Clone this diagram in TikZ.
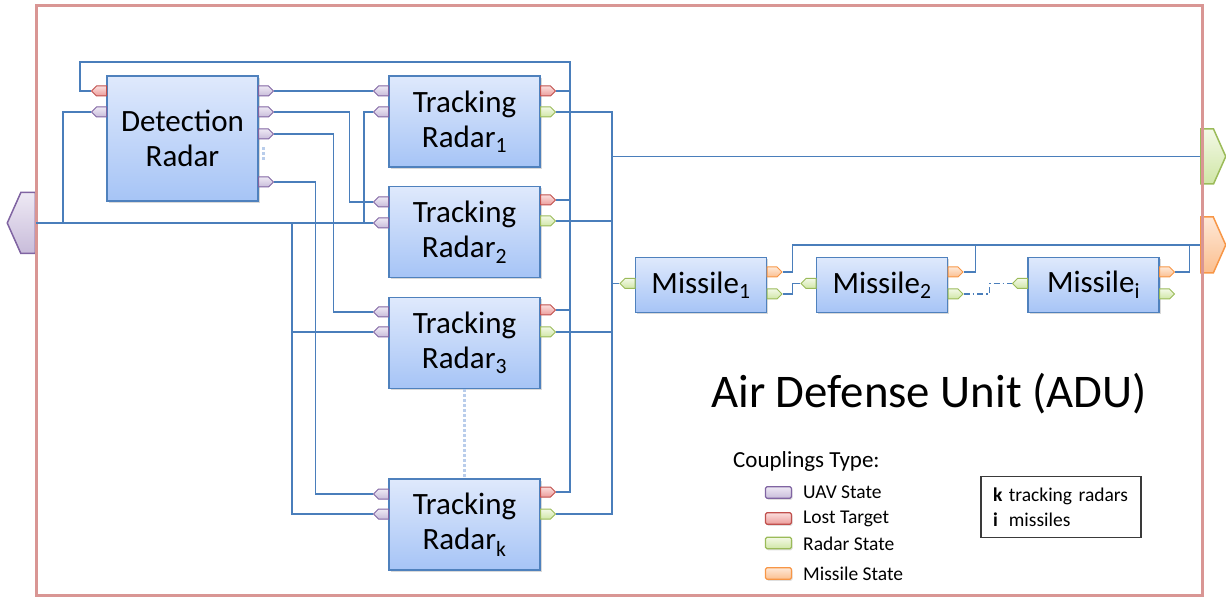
\documentclass[tikz,border=0pt]{standalone}
\usepackage{fontspec}
\setmainfont{Carlito}
\usepackage{tikz}
\usetikzlibrary{shapes,shadows}
\definecolor{frame}{HTML}{D99694}
\definecolor{blkline}{HTML}{4F81BD}
\definecolor{blktop}{HTML}{DFE9FC}
\definecolor{blkbot}{HTML}{A6C4F6}
\definecolor{wireblue}{HTML}{4A7EBB}
\definecolor{dotblue}{HTML}{B9CDEB}
\definecolor{uavline}{HTML}{8064A2}
\definecolor{uavtop}{HTML}{EEE9F4}
\definecolor{uavbot}{HTML}{C8BCDA}
\definecolor{ltline}{HTML}{C0504D}
\definecolor{lttop}{HTML}{FBDEDD}
\definecolor{ltbot}{HTML}{EC9C9A}
\definecolor{rsline}{HTML}{9BBB59}
\definecolor{rstop}{HTML}{F3F9E6}
\definecolor{rsbot}{HTML}{D0E6A6}
\definecolor{msline}{HTML}{F79646}
\definecolor{mstop}{HTML}{FEE8D7}
\definecolor{msbot}{HTML}{FBBF8F}
\definecolor{notebd}{HTML}{3A3A3A}
\tikzset{blk/.style={draw=blkline,line width=1.5pt,top color=blktop,bottom color=blkbot,minimum width=151pt,minimum height=91pt,align=center,inner sep=0pt,font=\fontsize{31}{35}\selectfont,drop shadow={shadow xshift=1.5pt,shadow yshift=-2pt,opacity=0.3}}}
\tikzset{prt/.style={signal,line width=1pt,minimum width=15pt,minimum height=10pt,inner sep=0pt}}
\tikzset{bigprt/.style={signal,line width=1.5pt,signal pointer angle=132,inner sep=0pt}}
\tikzset{uav/.style={draw=uavline,top color=uavtop,bottom color=uavbot}}
\tikzset{lost/.style={draw=ltline,top color=lttop,bottom color=ltbot}}
\tikzset{radar/.style={draw=rsline,top color=rstop,bottom color=rsbot}}
\tikzset{msl/.style={draw=msline,top color=mstop,bottom color=msbot}}
\tikzset{wire/.style={draw=wireblue,line width=1.4pt}}
\tikzset{bus/.style={draw=wireblue,line width=2.6pt}}
\tikzset{dots/.style={draw=dotblue,line width=2.5pt,dash pattern=on 2.5pt off 2.5pt}}
\tikzset{swatch/.style={minimum width=26pt,minimum height=11.5pt,rounded corners=1.5pt,line width=1.3pt,drop shadow={shadow xshift=1pt,shadow yshift=-1.5pt,opacity=0.25}}}
\tikzset{lgtext/.style={anchor=west,inner sep=0pt,font=\fontsize{19.5}{22}\selectfont}}

\begin{document}
\begin{tikzpicture}[x=1pt,y=-1pt]
    \useasboundingbox (0,0) rectangle (1226,601);

    \node[blk, minimum height=125pt] (dr) at (182.5,138.5) {Detection\\Radar};
    \node[blk] (tr1) at (464.5,121.5) {Tracking\\Radar\textsubscript{1}};
    \node[blk] (tr2) at (464.5,232) {Tracking\\Radar\textsubscript{2}};
    \node[blk] (tr3) at (464.5,343) {Tracking\\Radar\textsubscript{3}};
    \node[blk] (trk) at (464.5,524.5) {Tracking\\Radar\textsubscript{k}};
    \node[blk, minimum width=131pt, minimum height=55pt] (m1) at (701,285) {Missile\textsubscript{1}};
    \node[blk, minimum width=131pt, minimum height=55pt] (m2) at (882,285) {Missile\textsubscript{2}};
    \node[blk, minimum width=131pt, minimum height=55pt] (mi) at (1093.5,285) {Missile\textsubscript{i}};

    \node[prt, lost, signal to=west, anchor=east] (dr-lt) at (107,91) {};
    \node[prt, uav, signal to=west, anchor=east] (dr-u) at (107,112) {};
    \node[prt, uav, signal to=east, anchor=west] (dr-o1) at (258,91) {};
    \node[prt, uav, signal to=east, anchor=west] (dr-o2) at (258,112) {};
    \node[prt, uav, signal to=east, anchor=west] (dr-o3) at (258,134) {};
    \node[prt, uav, signal to=east, anchor=west] (dr-o4) at (258,182) {};

    \node[prt, uav, signal to=west, anchor=east] (tr1-u1) at (389,91) {};
    \node[prt, uav, signal to=west, anchor=east] (tr1-u2) at (389,112) {};
    \node[prt, lost, signal to=east, anchor=west] (tr1-lt) at (540,91) {};
    \node[prt, radar, signal to=east, anchor=west] (tr1-rs) at (540,112) {};
    \node[prt, uav, signal to=west, anchor=east] (tr2-u1) at (389,202) {};
    \node[prt, uav, signal to=west, anchor=east] (tr2-u2) at (389,223) {};
    \node[prt, lost, signal to=east, anchor=west] (tr2-lt) at (540,200) {};
    \node[prt, radar, signal to=east, anchor=west] (tr2-rs) at (540,221) {};
    \node[prt, uav, signal to=west, anchor=east] (tr3-u1) at (389,312) {};
    \node[prt, uav, signal to=west, anchor=east] (tr3-u2) at (389,332) {};
    \node[prt, lost, signal to=east, anchor=west] (tr3-lt) at (540,310) {};
    \node[prt, radar, signal to=east, anchor=west] (tr3-rs) at (540,332) {};
    \node[prt, uav, signal to=west, anchor=east] (trk-u1) at (389,494) {};
    \node[prt, uav, signal to=west, anchor=east] (trk-u2) at (389,514) {};
    \node[prt, lost, signal to=east, anchor=west] (trk-lt) at (540,492) {};
    \node[prt, radar, signal to=east, anchor=west] (trk-rs) at (540,514) {};

    \node[prt, radar, signal to=west, anchor=east] (m1-in) at (635.5,283.5) {};
    \node[prt, msl, signal to=east, anchor=west] (m1-ms) at (766.5,272) {};
    \node[prt, radar, signal to=east, anchor=west] (m1-rs) at (766.5,294) {};
    \node[prt, radar, signal to=west, anchor=east] (m2-in) at (816.5,283.5) {};
    \node[prt, msl, signal to=east, anchor=west] (m2-ms) at (947.5,272) {};
    \node[prt, radar, signal to=east, anchor=west] (m2-rs) at (947.5,294) {};
    \node[prt, radar, signal to=west, anchor=east] (mi-in) at (1028,283.5) {};
    \node[prt, msl, signal to=east, anchor=west] (mi-ms) at (1159,272) {};
    \node[prt, radar, signal to=east, anchor=west] (mi-rs) at (1159,294) {};

    \node[bigprt, uav, signal to=west, anchor=east, minimum width=28pt, minimum height=61pt] (uav-in) at (36,223) {};
    \node[bigprt, radar, signal to=east, anchor=west, minimum width=25pt, minimum height=55pt] (rs-out) at (1200,156.5) {};
    \node[bigprt, msl, signal to=east, anchor=west, minimum width=25pt, minimum height=56pt] (ms-out) at (1200,245) {};

    \draw[frame, line width=3pt] (36,5.5) rectangle (1202,595);

    \coordinate (lt-bus) at (570,310);
    \coordinate (rs-bus) at (612,0);
    \draw[bus] (tr3-lt.east) -| (570,62) -| (80,91) -- (dr-lt.west);
    \draw[wire] (tr1-lt.east) -- (tr1-lt.east -| lt-bus);
    \draw[wire] (tr2-lt.east) -- (tr2-lt.east -| lt-bus);
    \draw[wire] (trk-lt.east) -| (lt-bus);

    \draw[wire] (dr-o1.east) -- (tr1-u1.west);
    \draw[wire] (dr-o2.east) -- ++(75,0) |- (tr2-u1.west);
    \draw[wire] (dr-o3.east) -- ++(59,0) |- (tr3-u1.west);
    \draw[wire] (dr-o4.east) -- ++(41,0) |- (trk-u1.west);

    \draw[wire] (uav-in.east) -- (tr2-u2.west);
    \draw[wire] (uav-in.east) -- ++(27,0) |- (dr-u.west);
    \draw[wire] (uav-in.east) -- ++(328,0) |- (tr1-u2.west);
    \draw[wire] (uav-in.east) -- ++(256,0) |- (tr3-u2.west);
    \draw[wire] (uav-in.east) -- ++(256,0) |- (trk-u2.west);

    \draw[wire] (tr1-rs.east) -| (rs-bus |- trk-rs.east) -- (trk-rs.east);
    \draw[wire] (tr2-rs.east) -- (tr2-rs.east -| rs-bus);
    \draw[wire] (tr3-rs.east) -- (tr3-rs.east -| rs-bus);
    \draw[wire] (rs-out.west) -- (rs-out.west -| rs-bus);
    \draw[wire] (m1-in.west) -- (m1-in.west -| rs-bus);

    \draw[wire] (m1-ms.east) -- ++(10,0) |- (ms-out.west);
    \draw[wire] (m2-ms.east) -- ++(12,0) |- (ms-out.west);
    \draw[wire] (mi-ms.east) -- ++(14,0) |- (ms-out.west);
    \draw[wire] (m1-rs.east) -- ++(10,0) |- (m2-in.west);
    \draw[wire, dash pattern=on 6pt off 3pt on 1.5pt off 3pt] (m2-rs.east) -- ++(26,0) |- (mi-in.west);

    \draw[dots, shorten <=8pt, shorten >=15pt] (dr-o3) -- (dr-o4);
    \draw[dots] (tr3) -- (trk);

    \node[anchor=base west, inner sep=0pt, font=\fontsize{46.8}{52}\selectfont] (adu) at (711,407) {Air Defense Unit (ADU)};

    \node[anchor=west, inner sep=0pt, font=\fontsize{23}{26}\selectfont] (lg) at (733,461) {Couplings Type:};
    \node[swatch, uav] (sw-uav) at (778.5,492.5) {};
    \node[swatch, lost] (sw-lt) at (778.5,518.5) {};
    \node[swatch, radar] (sw-rs) at (778.5,543) {};
    \node[swatch, msl] (sw-ms) at (778.5,573.5) {};
    \node[lgtext] (lg-uav) at (803,492.5) {UAV State};
    \node[lgtext] (lg-lt) at (803,518.5) {Lost Target};
    \node[lgtext] (lg-rs) at (803,544) {Radar State};
    \node[lgtext] (lg-ms) at (803,574) {Missile State};

    \node[draw=notebd, line width=1.3pt, minimum width=160pt, minimum height=61pt, inner xsep=12pt, text width=136pt, align=left, font=\fontsize{19.5}{25}\selectfont] (note) at (1061,507) {\textbf{k} tracking radars\\\leavevmode\rlap{\textbf{i}}\phantom{\textbf{k}} missiles};
\end{tikzpicture}
\end{document}
